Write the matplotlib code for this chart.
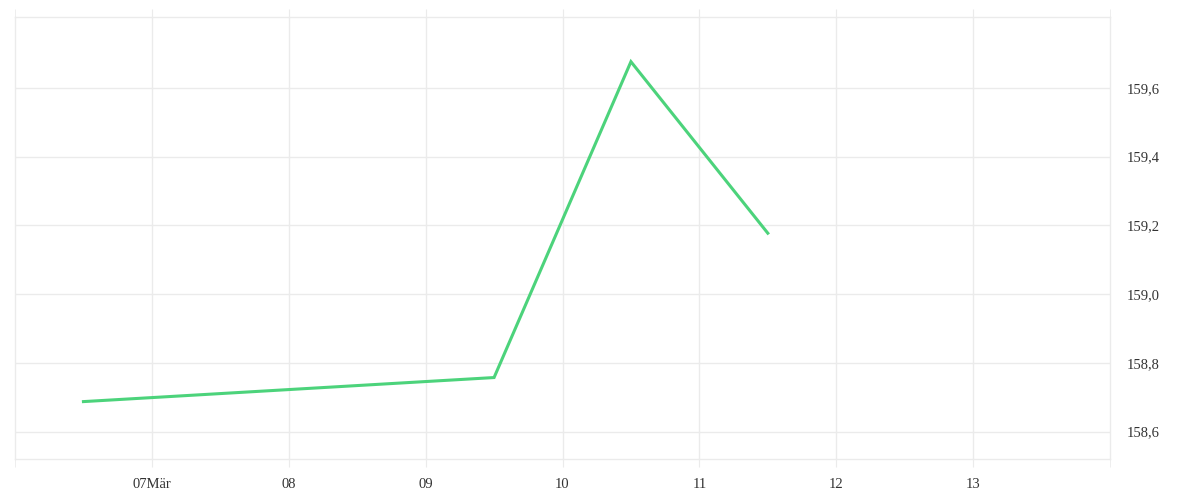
import matplotlib
matplotlib.use("Agg")
import matplotlib.pyplot as plt
import matplotlib.dates as mdates
import datetime as dt

# Data
dates = ["2024-03-06 12:00", "2024-03-09 12:00", "2024-03-10 12:00", "2024-03-11 12:00"]
values = [158.687, 158.757, 159.676, 159.177]
x_tick_dates = ["2024-03-07", "2024-03-08", "2024-03-09", "2024-03-10",
                "2024-03-11", "2024-03-12", "2024-03-13"]
x_tick_labels = ["07Mär", "08", "09", "10", "11", "12", "13"]
y_ticks = [158.6, 158.8, 159.0, 159.2, 159.4, 159.6]

x = [dt.datetime.strptime(d, "%Y-%m-%d %H:%M") for d in dates]
xt = [dt.datetime.strptime(d, "%Y-%m-%d") for d in x_tick_dates]

plt.rcParams['font.family'] = ['Liberation Serif', 'DejaVu Serif']

fig = plt.figure(figsize=(12, 5), dpi=100)
ax = fig.add_axes([15/1200, 41/500, 1095/1200, 442/500])

grid_c = "#ebebeb"
ax.plot(x, values, color="#4cd37b", linewidth=2.2, solid_joinstyle="miter")

ax.set_xlim(dt.datetime(2024, 3, 6), dt.datetime(2024, 3, 14))
ax.set_ylim(158.52, 159.806)

ax.set_xticks(mdates.date2num(xt))
ax.set_xticklabels(x_tick_labels)
ax.set_xticks(mdates.date2num([dt.datetime(2024, 3, 6), dt.datetime(2024, 3, 14)]), minor=True)

ax.set_yticks(y_ticks)
ax.set_yticklabels([f"{v:.1f}".replace(".", ",") for v in y_ticks])
ax.yaxis.tick_right()

ax.grid(True, axis="both", color=grid_c, linewidth=1)
ax.set_axisbelow(True)

for s in ax.spines.values():
    s.set_color(grid_c)
    s.set_linewidth(1)

ax.tick_params(axis="x", which="both", direction="out", length=6, color=grid_c,
               top=True, bottom=True, labeltop=False, labelbottom=True,
               labelsize=10.5, labelcolor="#333333", pad=8)
ax.tick_params(axis="y", which="both", length=0, labelsize=10.5, labelcolor="#333333", pad=12)

fig.savefig("out.png", dpi=100, facecolor="white")
